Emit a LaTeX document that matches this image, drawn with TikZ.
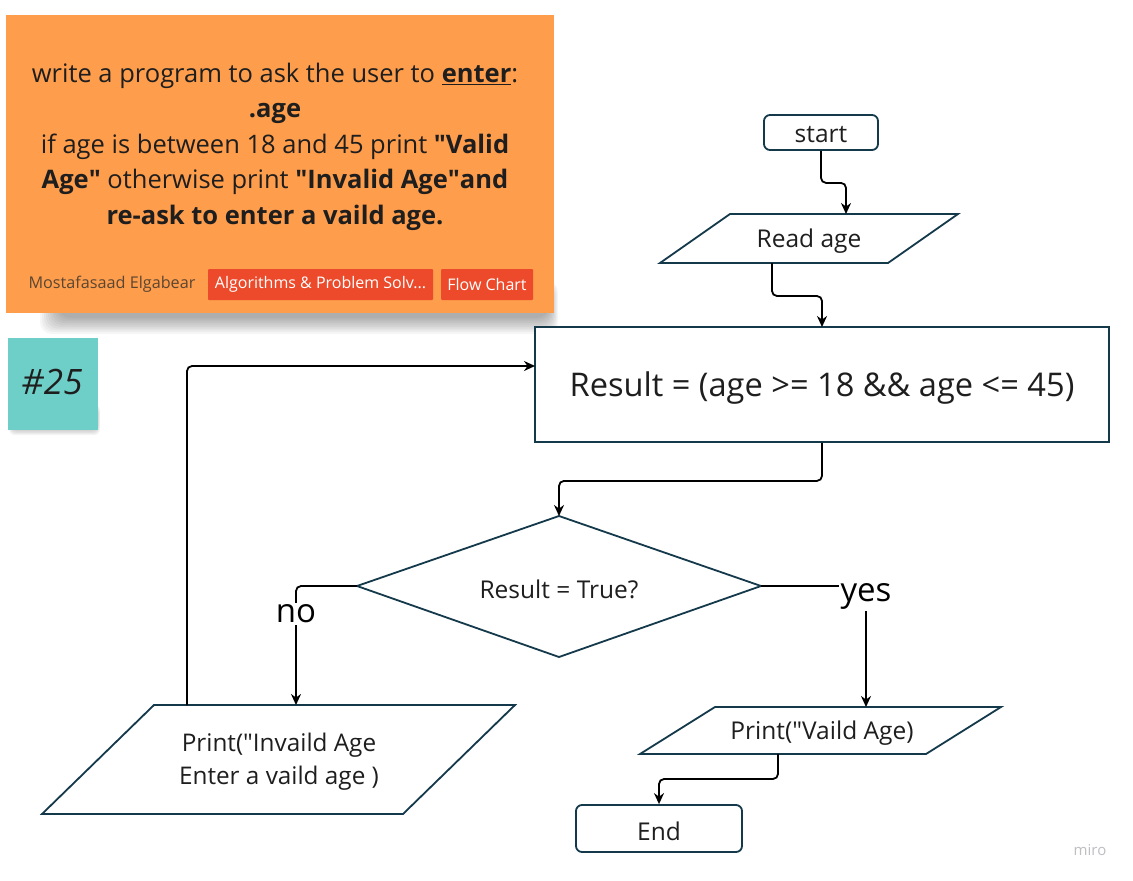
\documentclass[tikz,border=0pt]{standalone}
\usepackage{fontspec}
\setmainfont{Open Sans}
\usetikzlibrary{arrows.meta}
\definecolor{stickyorange}{RGB}{254,157,76}
\definecolor{stickyteal}{RGB}{110,206,200}
\definecolor{tagred}{RGB}{236,74,43}
\definecolor{shapeline}{RGB}{20,57,74}
\definecolor{txtdark}{RGB}{30,30,30}
\newcommand\qq{\textquotedbl}
\tikzset{
  shapestyle/.style={draw=shapeline, line width=1.8pt, fill=white, line join=miter},
  boxnode/.style={shapestyle, rounded corners=6pt, inner sep=0pt},
  lbl/.style={text=txtdark, inner sep=0pt, font=\fontsize{24.5}{29}\selectfont},
  conn/.style={draw=black, line width=1.8pt, rounded corners=5pt, -{Stealth[length=11pt,width=10pt]}},
  tagbox/.style={fill=tagred, text=white, inner sep=0pt, minimum height=31pt, rounded corners=1pt, font=\fontsize{16}{19}\selectfont},
  brlabel/.style={fill=white, inner sep=2pt, text=black, font=\fontsize{33}{38}\selectfont}
}
\begin{document}
\begin{tikzpicture}[x=1pt,y=-1pt]
\useasboundingbox (0,0) rectangle (1133,881);
\fill[white] (0,0) rectangle (1133,881);

% shadows
\foreach \i in {1,...,10}
  \fill[black, opacity=0.035, rounded corners=12pt] (60-\i*2, 290-\i) rectangle (548+\i, 316+\i*1.8);
\foreach \i in {1,...,6}
  \fill[black, opacity=0.04, rounded corners=6pt] (12-\i*0.5, 410-\i) rectangle (97+\i*0.5, 428+\i*1.2);

% orange sticky note
\node[fill=stickyorange, minimum width=548pt, minimum height=298pt, inner sep=0pt] (sticky) at (280,164) {};
\node[text=txtdark, align=center, inner sep=0pt, font=\fontsize{25.5}{35.5}\selectfont] (task) at (275,146.5)
  {write a program to ask the user to \underline{\textbf{enter}}:\\
   \textbf{.age}\\
   if age is between 18 and 45 print \textbf{\qq Valid}\\
   \textbf{Age\qq} otherwise print \textbf{\qq Invalid Age\qq and}\\
   \textbf{re-ask to enter a vaild age.}};
\node[text={rgb,255:red,90;green,70;blue,50}, inner sep=0pt, font=\fontsize{16.2}{19}\selectfont] (author) at (112,284) {Mostafasaad Elgabear};
\node[tagbox, minimum width=225pt] (tag1) at (320.5,284.5) {Algorithms \& Problem Solv...};
\node[tagbox, minimum width=92pt] (tag2) at (487,284.5) {Flow Chart};

% teal sticky note
\node[fill=stickyteal, minimum width=90pt, minimum height=92pt, inner sep=0pt] (teal) at (53,384) {};
\node[text=txtdark, inner sep=0pt, font=\fontsize{35}{40}\selectfont\itshape] (num) at (52,382) {\#25};

% flowchart shapes
\node[boxnode, minimum width=114pt, minimum height=35pt] (start) at (821,132.5) {};
\node[lbl] (starttxt) at (821,134.5) {start};

\draw[shapestyle] (730,214) -- (958,214) -- (888,263) -- (660,263) -- cycle;
\node[lbl] (read) at (809,241.5) {Read age};
\coordinate (readin) at (846,214);
\coordinate (readout) at (772,263);

\node[shapestyle, rounded corners=0pt, minimum width=574pt, minimum height=115pt, inner sep=0pt] (result) at (822,384.5) {};
\node[lbl, font=\fontsize{32.6}{38}\selectfont] (resulttxt) at (822,388) {Result = (age >= 18 \&\& age <= 45)};
\coordinate (resultin) at (822,327);
\coordinate (loopin) at (535,366);

\draw[shapestyle] (559,516) -- (761,586) -- (559,657) -- (357,586) -- cycle;
\node[lbl, font=\fontsize{24.5}{29}\selectfont] (dec) at (559,589) {Result = True?};
\coordinate (dectop) at (559,516);
\coordinate (decleft) at (357,586);
\coordinate (decright) at (761,586);

\draw[shapestyle] (154,705) -- (515,705) -- (403,814) -- (42,814) -- cycle;
\node[lbl, align=center, font=\fontsize{24.3}{33}\selectfont] (invalid) at (279,762) {Print(\qq Invaild Age\\Enter a vaild age )};
\coordinate (invalidin) at (296,705);
\coordinate (invalidout) at (187,705);

\draw[shapestyle] (715,707) -- (1001,707) -- (926,754) -- (640,754) -- cycle;
\node[lbl] (valid) at (822,733) {Print(\qq Vaild Age)};
\coordinate (validin) at (866,707);
\coordinate (validout) at (778,754);

\node[boxnode, minimum width=166pt, minimum height=47pt] (end) at (659,828.5) {};
\node[lbl] (endtxt) at (659,831) {End};

% connectors
\draw[conn] (start.south) -- ++(0,32) -| (readin);
\draw[conn] (readout) -- ++(0,33) -| (resultin);
\draw[conn] (result.south) -- ++(0,38) -| (dectop);
\draw[conn] (decleft) -| (invalidin);
\node[brlabel] (no) at (296,614) {no};
\draw[conn] (decright) -| (validin);
\node[brlabel] (yes) at (866,596) {yes};
\draw[conn] (invalidout) |- (loopin);
\draw[conn] (validout) -- ++(0,25) -| (end.north);

% watermark
\node[text={rgb,255:red,190;green,190;blue,195}, inner sep=0pt, font=\fontsize{15}{18}\selectfont] (miro) at (1090,850) {miro};
\end{tikzpicture}
\end{document}
